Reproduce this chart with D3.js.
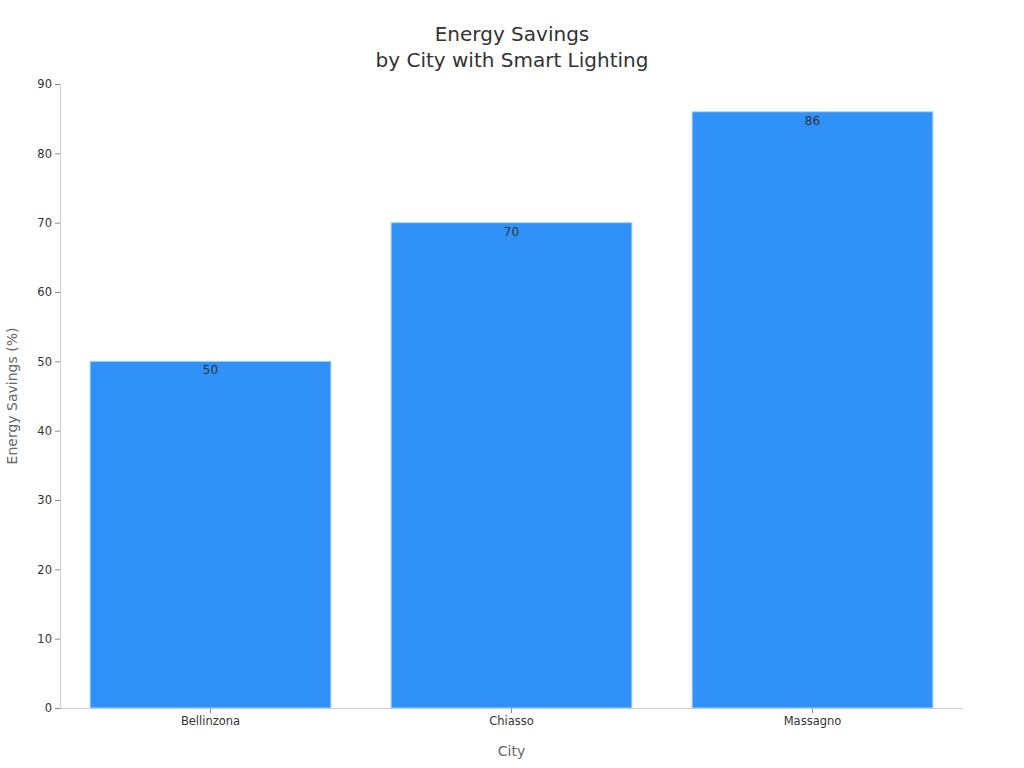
<!DOCTYPE html>
<html>
<head>
<meta charset="utf-8">
<script src="https://cdn.jsdelivr.net/npm/d3@7"></script>
<style>
    body { margin: 0; background: #fff; }
    text { font-family: "DejaVu Sans", sans-serif; }
</style>
</head>
<body>
<div id="chart"></div>
<script>
var cities = ["Bellinzona", "Chiasso", "Massagno"];
var savings = [50, 70, 86];
var yTicks = [0, 10, 20, 30, 40, 50, 60, 70, 80, 90];

(function() {
    var width = 1024,
        height = 768,
        margin = { top: 84, right: 61, bottom: 60, left: 60 };

    var svg = d3.select("#chart")
        .append("svg")
        .attr("width", width)
        .attr("height", height);

    var x = d3.scaleBand()
        .domain(cities)
        .range([margin.left, width - margin.right])
        .paddingInner(0.2)
        .paddingOuter(0.1);

    var y = d3.scaleLinear()
        .domain([0, 90])
        .range([height - margin.bottom, margin.top]);

    // y axis
    var yAxis = svg.append("g")
        .attr("transform", "translate(" + margin.left + ",0)")
        .call(d3.axisLeft(y).tickValues(yTicks).tickSize(5).tickPadding(3));
    yAxis.select(".domain").attr("stroke", "#cccccc");
    yAxis.selectAll(".tick line").attr("stroke", "#888888");
    yAxis.selectAll(".tick text")
        .attr("fill", "#333333")
        .style("font-size", "11.5px");

    // x axis
    var xAxis = svg.append("g")
        .attr("transform", "translate(0," + (height - margin.bottom) + ")")
        .call(d3.axisBottom(x).tickSize(5).tickSizeOuter(0).tickPadding(4));
    xAxis.select(".domain")
        .attr("stroke", "#cccccc")
        .attr("d", "M" + margin.left + ",0.5H" + (width - margin.right));
    xAxis.selectAll(".tick line").attr("stroke", "#888888");
    xAxis.selectAll(".tick text")
        .attr("fill", "#333333")
        .style("font-size", "11.5px");

    // bars
    var data = cities.map(function(c, i) { return { city: c, value: savings[i] }; });

    svg.selectAll(".bar")
        .data(data)
        .enter().append("rect")
        .attr("class", "bar")
        .attr("x", d => x(d.city))
        .attr("y", d => y(d.value))
        .attr("width", x.bandwidth())
        .attr("height", d => y(0) - y(d.value))
        .attr("fill", "#3092f8")
        .attr("stroke", "#a8d2ff")
        .attr("stroke-width", 1);

    svg.selectAll(".bar-label")
        .data(data)
        .enter().append("text")
        .attr("class", "bar-label")
        .attr("x", d => x(d.city) + x.bandwidth() / 2)
        .attr("y", d => y(d.value) + 13)
        .attr("text-anchor", "middle")
        .attr("fill", "#333333")
        .style("font-size", "12px")
        .text(d => d.value);

    // title
    svg.append("text")
        .attr("x", width / 2)
        .attr("y", 41)
        .attr("text-anchor", "middle")
        .attr("fill", "#333333")
        .style("font-size", "20px")
        .text("Energy Savings");
    svg.append("text")
        .attr("x", width / 2)
        .attr("y", 67)
        .attr("text-anchor", "middle")
        .attr("fill", "#333333")
        .style("font-size", "20px")
        .text("by City with Smart Lighting");

    // axis labels
    svg.append("text")
        .attr("x", (margin.left + width - margin.right) / 2)
        .attr("y", 756)
        .attr("text-anchor", "middle")
        .attr("fill", "#666666")
        .style("font-size", "14px")
        .text("City");

    svg.append("text")
        .attr("transform", "rotate(-90)")
        .attr("x", -(margin.top + height - margin.bottom) / 2)
        .attr("y", 17)
        .attr("text-anchor", "middle")
        .attr("fill", "#666666")
        .style("font-size", "14px")
        .text("Energy Savings (%)");
})();
</script>
</body>
</html>
